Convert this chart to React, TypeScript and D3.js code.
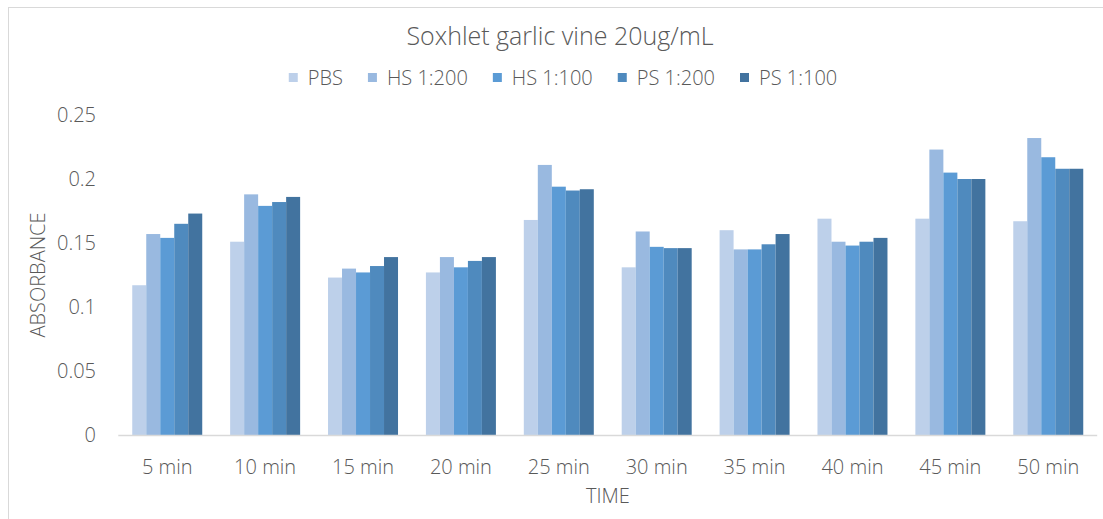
import React, { useEffect, useRef } from "react";
import * as d3 from "d3";

const categories = ["5 min", "10 min", "15 min", "20 min", "25 min", "30 min", "35 min", "40 min", "45 min", "50 min"];
const seriesNames = ["PBS", "HS 1:200", "HS 1:100", "PS 1:200", "PS 1:100"];
const seriesColors = ["#BDD0EA", "#99B9E0", "#5B9BD5", "#4F8ABE", "#42739F"];
const pbs = [0.117, 0.151, 0.123, 0.127, 0.168, 0.131, 0.160, 0.169, 0.169, 0.167];
const hs200 = [0.157, 0.188, 0.130, 0.139, 0.211, 0.159, 0.145, 0.151, 0.223, 0.232];
const hs100 = [0.154, 0.179, 0.127, 0.131, 0.194, 0.147, 0.145, 0.148, 0.205, 0.217];
const ps200 = [0.165, 0.182, 0.132, 0.136, 0.191, 0.146, 0.149, 0.151, 0.200, 0.208];
const ps100 = [0.173, 0.186, 0.139, 0.139, 0.192, 0.146, 0.157, 0.154, 0.200, 0.208];
const yTicks = [0, 0.05, 0.1, 0.15, 0.2, 0.25];
const title = "Soxhlet garlic vine 20ug/mL";
const xTitle = "TIME";
const yTitle = "ABSORBANCE";

const W = 1103;
const H = 519;
const FONT = "'Open Sans', 'DejaVu Sans', sans-serif";
const TEXT = "#595959";

export default function App() {
  const ref = useRef<SVGSVGElement | null>(null);

  useEffect(() => {
    const svg = d3.select(ref.current);
    svg.selectAll("*").remove();
    const values = [pbs, hs200, hs100, ps200, ps100];

    const left = 118.3, right = 1097.2, top = 115, bottom = 435;
    const x0 = d3.scaleBand<string>().domain(categories).range([left, right]).paddingInner(0.285).paddingOuter(0.1425);
    const x1 = d3.scaleBand<string>().domain(seriesNames).range([0, x0.bandwidth()]);
    const y = d3.scaleLinear().domain([0, 0.25]).range([bottom, top]);

    // chart border
    svg.append("rect").attr("x", 8.5).attr("y", 7.5).attr("width", 1110).attr("height", 530)
      .attr("fill", "#fff").attr("stroke", "#d9d9d9").attr("stroke-width", 1);

    // title
    svg.append("text").attr("x", 560).attr("y", 45).attr("text-anchor", "middle")
      .attr("font-family", FONT).attr("font-size", 25).attr("font-weight", 300).attr("fill", TEXT).text(title);

    // legend
    const lg = svg.append("g");
    let cx = 0;
    seriesNames.forEach((name, i) => {
      const g = lg.append("g").attr("transform", `translate(${cx},0)`);
      g.append("rect").attr("x", 0).attr("y", 73).attr("width", 9).attr("height", 9).attr("fill", seriesColors[i]);
      const t = g.append("text").attr("x", 19).attr("y", 84.5).attr("font-family", FONT).attr("font-size", 20)
        .attr("font-weight", 300).attr("fill", TEXT).text(name);
      const w = (t.node() as SVGTextElement).getComputedTextLength();
      cx += 19 + w + 25;
    });
    const totalW = cx - 25;
    lg.attr("transform", `translate(${563 - totalW / 2},0)`);

    // bars
    categories.forEach((c, ci) => {
      seriesNames.forEach((s, si) => {
        const v = values[si][ci];
        svg.append("rect")
          .attr("x", (x0(c) as number) + (x1(s) as number))
          .attr("y", y(v))
          .attr("width", x1.bandwidth())
          .attr("height", y(0) - y(v))
          .attr("fill", seriesColors[si]);
      });
    });

    // x axis line
    svg.append("line").attr("x1", left).attr("x2", right).attr("y1", bottom + 0.5).attr("y2", bottom + 0.5)
      .attr("stroke", "#d9d9d9").attr("stroke-width", 1.5);

    // y tick labels
    yTicks.forEach((t) => {
      svg.append("text").attr("x", 96).attr("y", y(t) + 7).attr("text-anchor", "end")
        .attr("font-family", FONT).attr("font-size", 20).attr("font-weight", 300).attr("fill", TEXT)
        .text(d3.format("~g")(t));
    });

    // x tick labels
    categories.forEach((c) => {
      svg.append("text").attr("x", (x0(c) as number) + x0.bandwidth() / 2).attr("y", 474).attr("text-anchor", "middle")
        .attr("font-family", FONT).attr("font-size", 20).attr("font-weight", 300).attr("fill", TEXT).text(c);
    });

    // axis titles
    svg.append("text").attr("x", 608).attr("y", 503).attr("text-anchor", "middle")
      .attr("font-family", FONT).attr("font-size", 20).attr("font-weight", 300).attr("fill", TEXT).text(xTitle);
    svg.append("text").attr("transform", `translate(45,275) rotate(-90)`).attr("text-anchor", "middle")
      .attr("font-family", FONT).attr("font-size", 20).attr("font-weight", 300).attr("fill", TEXT).text(yTitle);
  }, []);

  return (
    <svg ref={ref} width={W} height={H} style={{ position: "absolute", left: 0, top: 0, display: "block" }} />
  );
}
